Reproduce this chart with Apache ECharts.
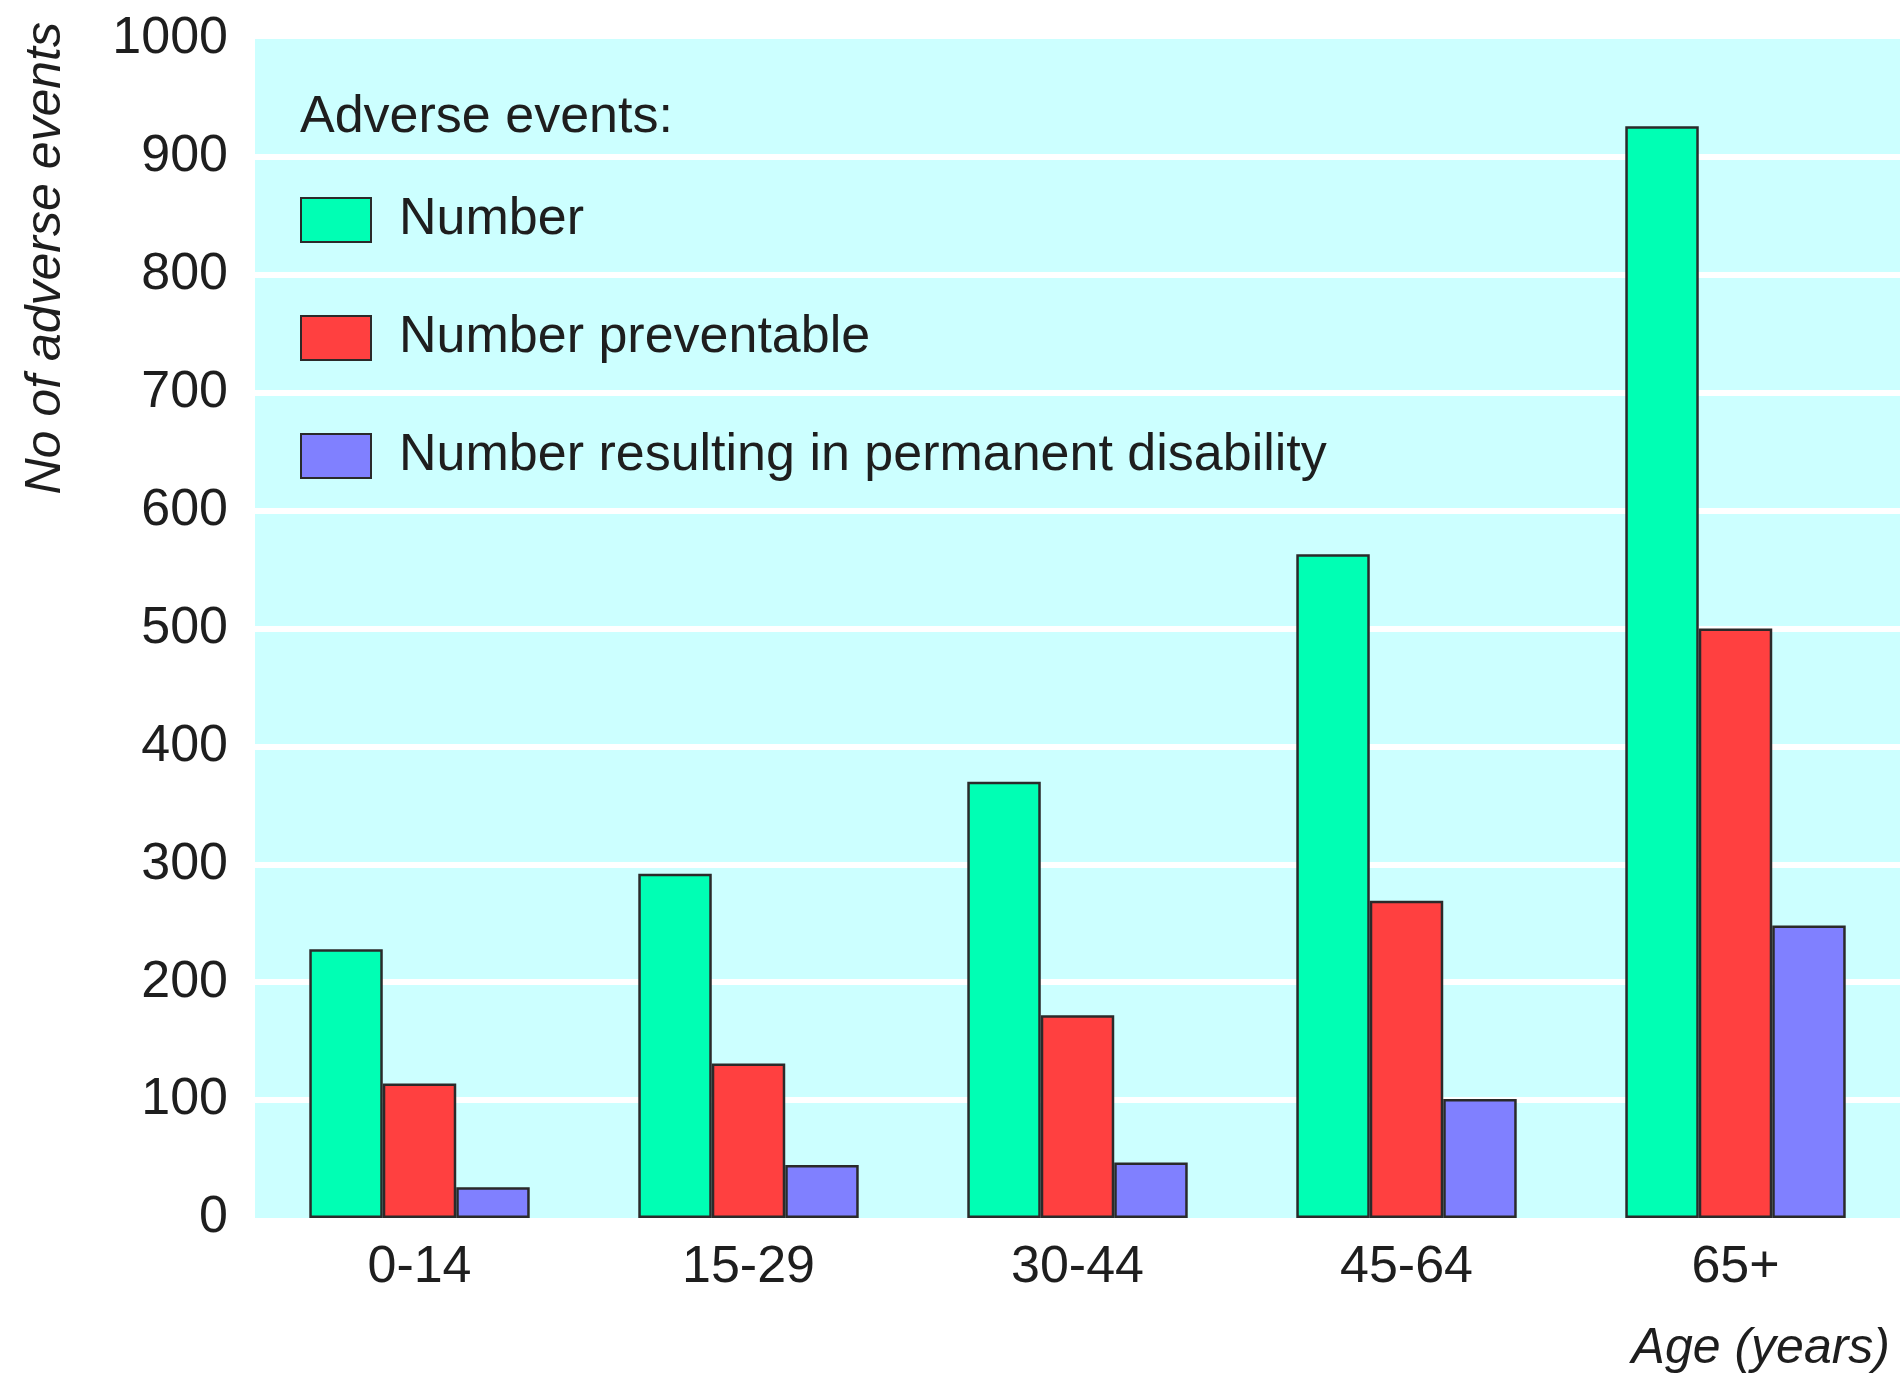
<!DOCTYPE html>
<html>
<head>
<meta charset="utf-8">
<script src="https://cdn.jsdelivr.net/npm/echarts@6/dist/echarts.min.js"></script>
<style>
  html, body { margin: 0; padding: 0; background: #fff; }
  #chart { width: 1900px; height: 1383px; }
</style>
</head>
<body>
<div id="chart"></div>
<script>
// 数据
const ageGroups = ['0-14', '15-29', '30-44', '45-64', '65+'];
const numberEvents = [228, 292, 370, 563, 926];
const numberPreventable = [114, 131, 172, 269, 500];
const numberDisability = [26, 45, 47, 101, 248];
const seriesNames = ['Number', 'Number preventable', 'Number resulting in permanent disability'];
const yTicks = [0, 100, 200, 300, 400, 500, 600, 700, 800, 900, 1000];

const font = "'Liberation Sans Narrow', 'Liberation Sans', Arial, sans-serif";
const textColor = '#1e1e1e';

const chart = echarts.init(document.getElementById('chart'));

function barSeries(name, data, color) {
  return {
    name: name,
    type: 'bar',
    data: data,
    barGap: '0%',
    barCategoryGap: '33%',
    itemStyle: {
      color: color,
      borderColor: '#2a2a2a',
      borderWidth: 2.5
    }
  };
}

const option = {
  animation: false,
  title: {
    text: 'Adverse events:',
    left: 300,
    top: 92,
    padding: 0,
    textStyle: { fontFamily: font, fontSize: 52, fontWeight: 'normal', color: textColor }
  },
  legend: {
    data: seriesNames,
    orient: 'vertical',
    left: 300,
    top: 194,
    padding: 0,
    itemWidth: 70,
    itemHeight: 44,
    itemGap: 66,
    icon: 'rect',
    selectedMode: false,
    textStyle: { fontFamily: font, fontSize: 52, color: textColor, padding: [0, 0, 0, 23] }
  },
  grid: {
    left: 255,
    right: 0,
    top: 39,
    bottom: 165,
    show: true,
    backgroundColor: '#ccffff',
    borderWidth: 0
  },
  xAxis: {
    type: 'category',
    data: ageGroups,
    axisLine: { show: false },
    axisTick: { show: false },
    axisLabel: { fontFamily: font, fontSize: 52, color: textColor, margin: 24 }
  },
  yAxis: {
    type: 'value',
    min: yTicks[0],
    max: yTicks[yTicks.length - 1],
    interval: 100,
    axisLine: { show: false },
    axisTick: { show: false },
    axisLabel: {
      fontFamily: font,
      fontSize: 52,
      color: textColor,
      margin: 27,
      padding: [14, 0, 0, 0],
      formatter: function (v) { return String(v); }
    },
    splitLine: {
      show: true,
      showMinLine: false,
      showMaxLine: false,
      lineStyle: { color: '#ffffff', width: 6 }
    }
  },
  graphic: [
    {
      type: 'text',
      x: 46,
      y: 22,
      rotation: Math.PI / 2,
      style: {
        text: 'No of adverse events',
        font: 'italic 50px ' + font,
        fill: textColor,
        textAlign: 'right',
        textVerticalAlign: 'middle'
      }
    },
    {
      type: 'text',
      x: 1890,
      y: 1349,
      style: {
        text: 'Age (years)',
        font: 'italic 50px ' + font,
        fill: textColor,
        textAlign: 'right',
        textVerticalAlign: 'middle'
      }
    }
  ],
  series: [
    barSeries(seriesNames[0], numberEvents, '#00ffb4'),
    barSeries(seriesNames[1], numberPreventable, '#ff4040'),
    barSeries(seriesNames[2], numberDisability, '#8080ff')
  ]
};

chart.setOption(option);

window.addEventListener('resize', function () {
  chart.resize();
});
</script>
</body>
</html>
